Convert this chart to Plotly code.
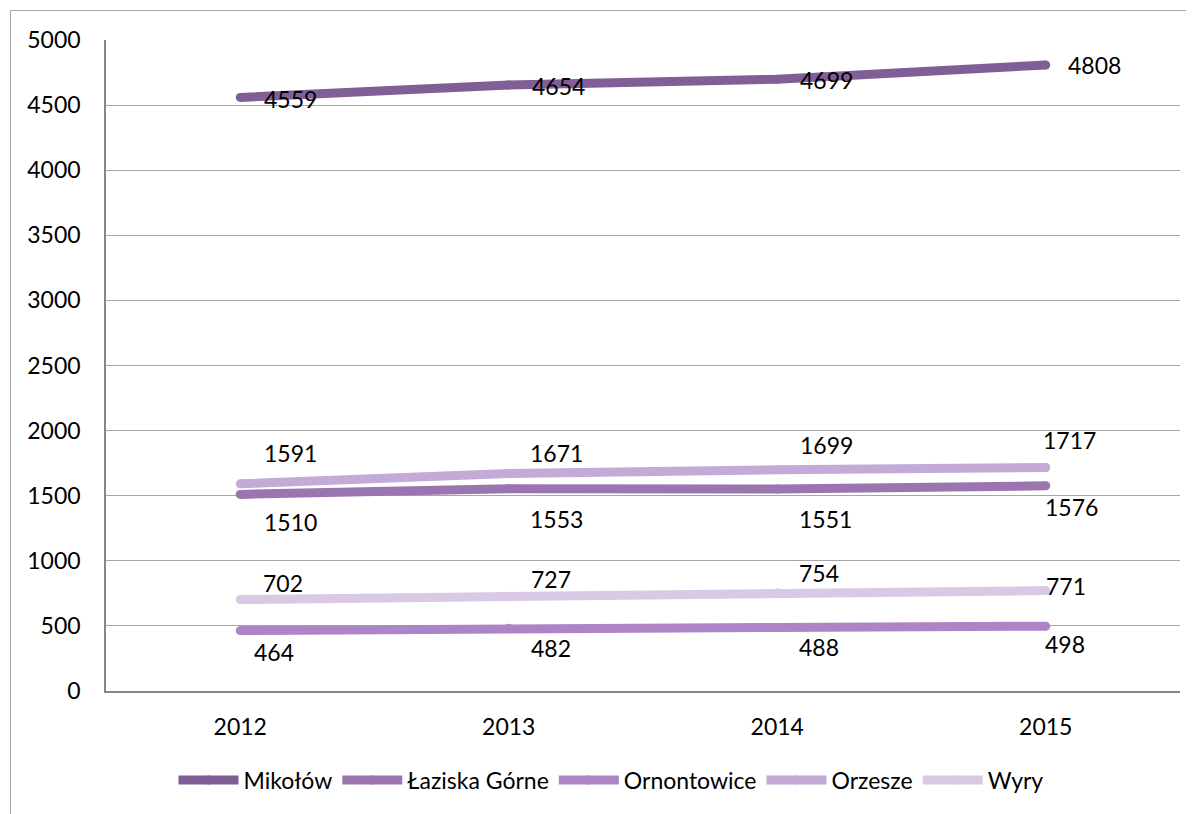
import plotly.graph_objects as go

years = ["2012", "2013", "2014", "2015"]
mikolow = [4559, 4654, 4699, 4808]
laziska = [1510, 1553, 1551, 1576]
ornontowice = [464, 482, 488, 498]
orzesze = [1591, 1671, 1699, 1717]
wyry = [702, 727, 754, 771]
y_ticks = [0, 500, 1000, 1500, 2000, 2500, 3000, 3500, 4000, 4500, 5000]

series = [
    ("Mikołów", mikolow, "#805F96"),
    ("Łaziska Górne", laziska, "#9B75B0"),
    ("Ornontowice", ornontowice, "#AD85C6"),
    ("Orzesze", orzesze, "#C4AAD6"),
    ("Wyry", wyry, "#D9C9E4"),
]

# label offsets (px) per series per point: (xshift, yshift)
label_offsets = {
    "Mikołów": [(50, -2), (50, -1), (49, -1), (49, 0)],
    "Łaziska Górne": [(50, -28), (48, -30), (48, -30), (26, -21)],
    "Ornontowice": [(34, -21), (42, -20), (42, -20), (19, -18)],
    "Orzesze": [(50, 31), (48, 20), (49, 25), (24, 27)],
    "Wyry": [(43, 17), (42, 17), (42, 20), (20, 5)],
}

FONT = "Lato"
O = 8  # page body margin
W, H = 1194, 814
L = 106 - O
T = 40 - O
R = W - (1180 - O)
B = H - (691 - O)
pw, ph = W - L - R, H - T - B

fig = go.Figure()
annotations = []
for name, vals, color in series:
    fig.add_trace(go.Scatter(
        x=years, y=vals, mode="lines+markers", name=name,
        line=dict(color=color, width=9),
        marker=dict(color=color, size=9, symbol="circle", line=dict(width=0)),
        hoverinfo="x+y+name",
    ))
    for i, v in enumerate(vals):
        xs, ys = label_offsets[name][i]
        annotations.append(dict(
            x=i, y=v, xref="x", yref="y", text=str(v), showarrow=False,
            xshift=xs, yshift=ys, font=dict(family=FONT, size=23, color="#000000"),
            xanchor="center", yanchor="middle",
        ))

def px_x(p):
    return (p - O - L) / pw

def px_y(p):
    return (H - B - (p - O)) / ph

shapes = [dict(
    type="rect", xref="paper", yref="paper",
    x0=px_x(10.5), x1=px_x(1200), y0=px_y(840), y1=px_y(10.5),
    line=dict(color="#A6A6A6", width=1), fillcolor="rgba(0,0,0,0)", layer="below",
)]

fig.update_layout(
    width=W, height=H,
    margin=dict(l=L, r=R, t=T, b=B),
    paper_bgcolor="white", plot_bgcolor="white",
    font=dict(family=FONT, size=23, color="#000000"),
    showlegend=True,
    legend=dict(
        orientation="h", x=px_x(611), xanchor="center", y=px_y(780), yanchor="middle",
        font=dict(family=FONT, size=23), itemwidth=60, tracegroupgap=0,
        bgcolor="rgba(0,0,0,0)",
    ),
    xaxis=dict(
        type="category", range=[-0.5, 3.5], showgrid=False,
        showline=True, linecolor="#868686", linewidth=1.5,
        ticks="", ticklabelstandoff=15, tickfont=dict(family=FONT, size=23),
        zeroline=False, fixedrange=True,
    ),
    yaxis=dict(
        range=[0, 5000], tickvals=y_ticks, ticktext=[str(t) for t in y_ticks],
        showgrid=True, gridcolor="#A6A6A6", gridwidth=1,
        showline=True, linecolor="#868686", linewidth=1.5,
        ticks="", ticklabelstandoff=19, tickfont=dict(family=FONT, size=23),
        zeroline=False, fixedrange=True,
    ),
    annotations=annotations,
    shapes=shapes,
)

fig.write_html("out.html")
